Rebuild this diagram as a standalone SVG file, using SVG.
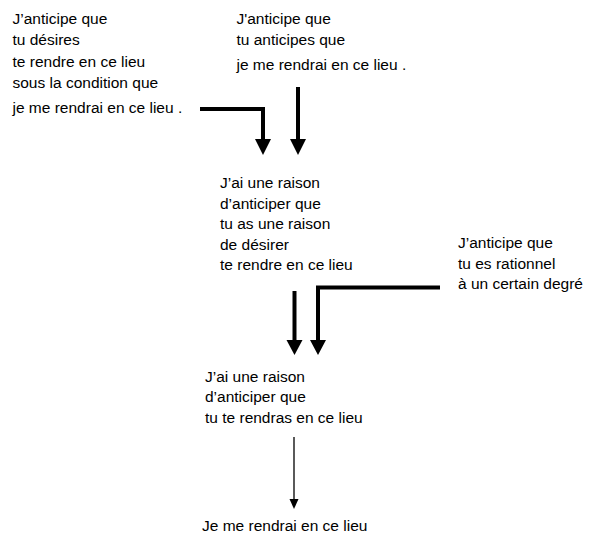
<svg xmlns="http://www.w3.org/2000/svg" width="589" height="537" viewBox="0 0 589 537">
<style>
text{font-family:"Liberation Sans",Arial,sans-serif;font-size:15.5px;fill:#000}
.thick{stroke:#000;stroke-width:4;fill:none}
.thin{stroke:#000;stroke-width:1.3;fill:none}
.head{fill:#000}
</style>
<rect width="589" height="537" fill="#fff"/>
<g id="node1">
<text x="12.5" y="24">J’anticipe que</text>
<text x="12.5" y="45">tu désires</text>
<text x="12.5" y="66.5">te rendre en ce lieu</text>
<text x="12.5" y="87.5">sous la condition que</text>
<text x="12.5" y="113">je me rendrai en ce lieu .</text>
</g>
<g id="node2">
<text x="236.5" y="24">J'anticipe que</text>
<text x="236.5" y="45">tu anticipes que</text>
<text x="236.5" y="70">je me rendrai en ce lieu .</text>
</g>
<g id="node3">
<text x="220" y="188">J’ai une raison</text>
<text x="220" y="208.5">d’anticiper que</text>
<text x="220" y="229">tu as une raison</text>
<text x="220" y="249.5">de désirer</text>
<text x="220" y="270">te rendre en ce lieu</text>
</g>
<g id="node4">
<text x="458" y="248">J’anticipe que</text>
<text x="458" y="268.5">tu es rationnel</text>
<text x="458" y="289">à un certain degré</text>
</g>
<g id="node5">
<text x="205" y="382">J’ai une raison</text>
<text x="205" y="402">d’anticiper que</text>
<text x="205" y="422.5">tu te rendras en ce lieu</text>
</g>
<g id="node6">
<text x="202" y="531">Je me rendrai en ce lieu</text>
</g>
<g id="connectors">
<path class="thick" d="M200,109 H263 V141"/>
<polygon class="head" points="255,139 271,139 263,155"/>
<path class="thick" d="M298,87 V141"/>
<polygon class="head" points="290,139 306,139 298,155"/>
<path class="thick" d="M294.5,291 V342"/>
<polygon class="head" points="286.5,340 302.5,340 294.5,355"/>
<path class="thick" d="M440,287.5 H318 V342"/>
<polygon class="head" points="310,340 326,340 318,355"/>
<path class="thin" d="M294,437 V500"/>
<polygon class="head" points="289.5,499 298.5,499 294,509"/>
</g>
</svg>
